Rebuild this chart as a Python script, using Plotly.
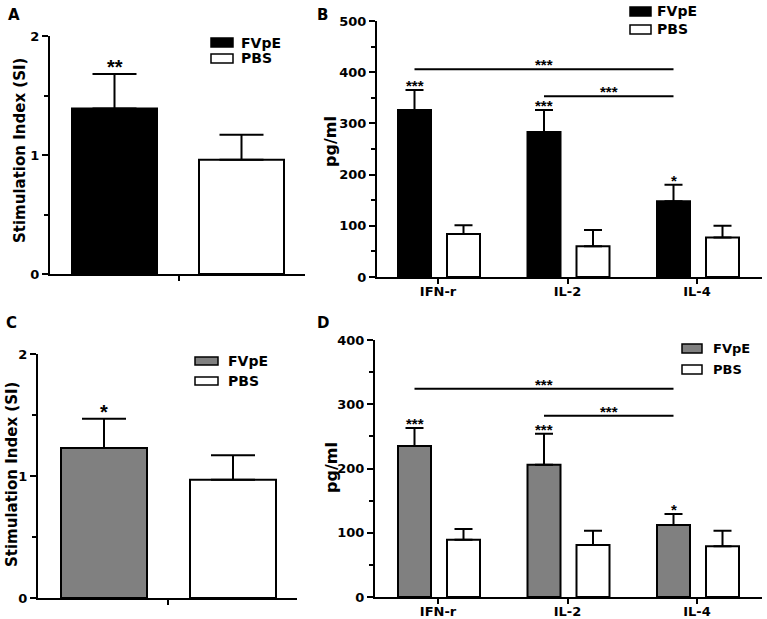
import plotly.graph_objects as go

W, H = 767, 619

# ---------------- data ----------------
si_groups = ["FVpE", "PBS"]
si_A_mean = [1.39, 0.96]
si_A_sem = [0.29, 0.21]
si_A_sig = ["**", ""]
si_C_mean = [1.23, 0.97]
si_C_sem = [0.24, 0.20]
si_C_sig = ["*", ""]
si_ticks = [0, 1, 2]

cytokines = ["IFN-r", "IL-2", "IL-4"]
B_fvpe = [326, 283, 148]
B_fvpe_sem = [39, 43, 32]
B_pbs = [84, 60, 77]
B_pbs_sem = [17, 32, 23]
B_sig = ["***", "***", "*"]
B_compare = [("IFN-r", "IL-4", 406, "***"), ("IL-2", "IL-4", 353, "***")]
B_ticks = [0, 100, 200, 300, 400, 500]

D_fvpe = [235, 206, 112]
D_fvpe_sem = [28, 48, 17]
D_pbs = [89, 81, 79]
D_pbs_sem = [17, 22, 24]
D_sig = ["***", "***", "*"]
D_compare = [("IFN-r", "IL-4", 324, "***"), ("IL-2", "IL-4", 282, "***")]
D_ticks = [0, 100, 200, 300, 400]

# ---------------- layout (pixels) ----------------
FONT = "DejaVu Sans"
STAR_FONT = "Liberation Sans"


def px_x(p):
    return p / W


def px_y(p):
    return 1 - p / H


panels = [
    dict(name="A", ax="", x0=50, x1=305, ytop=36, ybot=274, cat0=179, unit=255,
         off=[-107, 20], bw=85, cap=22, colors=["black", "white"], yr=[0, 2],
         ticks=si_ticks, minor=0.5, ytitle="Stimulation Index (SI)", tsize=15,
         title_xy=(20, 151), label_xy=(14, 15), star_size=20,
         leg=dict(bx=211, bw=22, by=[38, 54], bh=9, tx=239, fs=14)),
    dict(name="B", ax="2", x0=377, x1=762, ytop=21, ybot=277, cat0=438, unit=129.5,
         off=[-40, 9], bw=33, cap=9, colors=["black", "white"], yr=[0, 500],
         ticks=B_ticks, minor=50, ytitle="pg/ml", tsize=16,
         title_xy=(331, 142), label_xy=(322, 15), star_size=15,
         leg=dict(bx=630, bw=21, by=[7, 25], bh=9, tx=655, fs=14)),
    dict(name="C", ax="3", x0=38, x1=297, ytop=354, ybot=598, cat0=168, unit=259,
         off=[-107, 22], bw=86, cap=22, colors=["#808080", "white"], yr=[0, 2],
         ticks=si_ticks, minor=0.5, ytitle="Stimulation Index (SI)", tsize=15,
         title_xy=(12, 475), label_xy=(11, 323), star_size=20,
         leg=dict(bx=195, bw=23, by=[357, 377], bh=8, tx=226, fs=14)),
    dict(name="D", ax="4", x0=375, x1=762, ytop=340, ybot=597, cat0=438, unit=129.5,
         off=[-40, 9], bw=33, cap=9, colors=["#808080", "white"], yr=[0, 400],
         ticks=D_ticks, minor=50, ytitle="pg/ml", tsize=16,
         title_xy=(331, 468), label_xy=(323, 323), star_size=15,
         leg=dict(bx=682, bw=20, by=[344, 365], bh=9, tx=711, fs=13)),
]

panel_data = {
    "A": dict(cats=["SI"], series=[[si_A_mean[0]], [si_A_mean[1]]],
              errs=[[si_A_sem[0]], [si_A_sem[1]]], sig=[si_A_sig[0]], compare=[]),
    "B": dict(cats=cytokines, series=[B_fvpe, B_pbs], errs=[B_fvpe_sem, B_pbs_sem],
              sig=B_sig, compare=B_compare),
    "C": dict(cats=["SI"], series=[[si_C_mean[0]], [si_C_mean[1]]],
              errs=[[si_C_sem[0]], [si_C_sem[1]]], sig=[si_C_sig[0]], compare=[]),
    "D": dict(cats=cytokines, series=[D_fvpe, D_pbs], errs=[D_fvpe_sem, D_pbs_sem],
              sig=D_sig, compare=D_compare),
}

fig = go.Figure()
annotations = []
shapes = []
layout_axes = {}

for p in panels:
    d = panel_data[p["name"]]
    xa = "x" + p["ax"]
    ya = "y" + p["ax"]
    u = p["unit"]
    rng = [(p["x0"] - p["cat0"]) / u, (p["x1"] - p["cat0"]) / u]
    for si, grp in enumerate(si_groups):
        fig.add_trace(go.Bar(
            x=d["cats"], y=d["series"][si], xaxis=xa, yaxis=ya,
            name=grp, showlegend=False,
            offset=p["off"][si] / u, width=p["bw"] / u,
            marker=dict(color=p["colors"][si], line=dict(color="black", width=2)),
            error_y=dict(type="data", symmetric=False, array=d["errs"][si],
                         arrayminus=[0] * len(d["cats"]), color="black",
                         thickness=2, width=p["cap"]),
        ))
    fv_center = (p["off"][0] + p["bw"] / 2) / u
    # stars above FVpE bars
    for i, s in enumerate(d["sig"]):
        if s:
            annotations.append(dict(
                xref=xa, yref=ya, x=i + fv_center,
                y=d["series"][0][i] + d["errs"][0][i],
                text=s, showarrow=False, yanchor="bottom", yshift=-6,
                font=dict(family=STAR_FONT, size=p["star_size"], color="black", weight="bold")))
    # comparison lines
    for a, b, yv, s in d["compare"]:
        xa0 = d["cats"].index(a) + fv_center
        xb0 = d["cats"].index(b) + fv_center
        shapes.append(dict(type="line", xref=xa, yref=ya, x0=xa0, x1=xb0, y0=yv, y1=yv,
                           line=dict(color="black", width=2)))
        annotations.append(dict(
            xref=xa, yref=ya, x=(xa0 + xb0) / 2, y=yv, text=s, showarrow=False,
            yanchor="bottom", yshift=-6,
            font=dict(family=STAR_FONT, size=p["star_size"], color="black", weight="bold")))
    # axis titles & panel label
    tx, ty = p["title_xy"]
    annotations.append(dict(xref="paper", yref="paper", x=px_x(tx), y=px_y(ty),
                            text=p["ytitle"], textangle=-90, showarrow=False,
                            xanchor="center", yanchor="middle",
                            font=dict(family=FONT, size=p["tsize"], color="black", weight="bold")))
    lx, ly = p["label_xy"]
    annotations.append(dict(xref="paper", yref="paper", x=px_x(lx), y=px_y(ly),
                            text=p["name"], showarrow=False, xanchor="center", yanchor="middle",
                            font=dict(family=FONT, size=15, color="black", weight="bold")))
    # legend
    lg = p["leg"]
    for si, grp in enumerate(si_groups):
        by = lg["by"][si]
        shapes.append(dict(type="rect", xref="paper", yref="paper",
                           x0=px_x(lg["bx"]), x1=px_x(lg["bx"] + lg["bw"]),
                           y0=px_y(by + lg["bh"]), y1=px_y(by),
                           fillcolor=p["colors"][si], line=dict(color="black", width=1.5)))
        annotations.append(dict(xref="paper", yref="paper", x=px_x(lg["tx"]),
                                y=px_y(by + lg["bh"] / 2), text=grp, showarrow=False,
                                xanchor="left", yanchor="middle",
                                font=dict(family=FONT, size=lg["fs"], color="black", weight="bold")))
    # axes
    xkey = "xaxis" + p["ax"]
    ykey = "yaxis" + p["ax"]
    layout_axes[xkey] = dict(
        domain=[px_x(p["x0"]), px_x(p["x1"])], anchor=ya, type="category",
        range=rng, showline=True, linecolor="black", linewidth=2,
        ticks="outside", ticklen=5, tickwidth=2, tickcolor="black",
        ticklabelstandoff=-4, automargin=False,
        showticklabels=(len(d["cats"]) > 1), showgrid=False, zeroline=False,
        tickfont=dict(family=FONT, size=13, color="black", weight="bold"),
    )
    layout_axes[ykey] = dict(
        domain=[px_y(p["ybot"]), px_y(p["ytop"])], anchor=xa, range=p["yr"],
        tickvals=p["ticks"], showline=True, linecolor="black", linewidth=2,
        ticks="outside", ticklen=6, tickwidth=2, tickcolor="black", automargin=False,
        minor=dict(dtick=p["minor"], ticks="outside", ticklen=4, tickwidth=2, tickcolor="black"),
        showgrid=False, zeroline=False,
        tickfont=dict(family=FONT, size=13, color="black", weight="bold"),
    )

fig.update_layout(
    width=W, height=H, margin=dict(l=0, r=0, t=0, b=0, autoexpand=False),
    paper_bgcolor="white", plot_bgcolor="white",
    annotations=annotations, shapes=shapes, showlegend=False,
    **layout_axes,
)

fig.write_html("out.html", config={"displayModeBar": False},
               post_script="document.body.style.margin='0px';")
